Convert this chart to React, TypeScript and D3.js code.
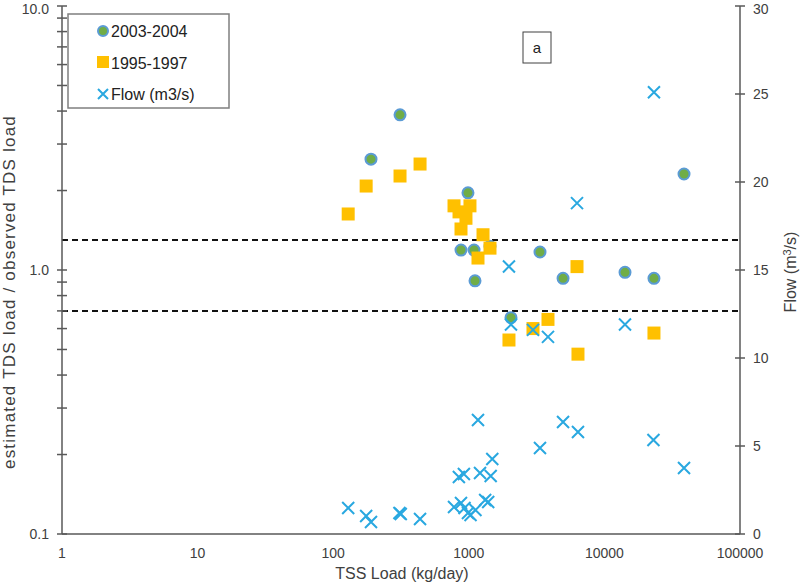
import React, { useEffect, useRef } from "react";
import * as d3 from "d3";

// 2003-2004 samples: TSS load (kg/day) and estimated / observed TDS ratio
const circleLoad = [190, 311, 986, 876, 1093, 1433, 1111, 3350, 4955, 2047, 14190, 23200, 38650];
const circleRatio = [2.63, 3.87, 1.96, 1.19, 1.19, 1.23, 0.91, 1.17, 0.93, 0.66, 0.98, 0.93, 2.31];

// 1995-1997 samples
const squareLoad = [129, 175, 311, 437, 778, 1020, 847, 953, 876, 1273, 1433, 1169, 1978, 2974, 3837, 6385, 6280, 23200];
const squareRatio = [1.63, 2.08, 2.27, 2.52, 1.75, 1.75, 1.66, 1.57, 1.43, 1.36, 1.21, 1.11, 0.543, 0.6, 0.65, 0.48, 1.03, 0.577];

// flow (m3/s), right axis
const flowLoad = [129, 175, 190, 308, 315, 437, 778, 876, 930, 986, 1030, 1120, 1169, 845, 920, 1210, 1450, 1490,
  1320, 1390, 1978, 2047, 2974, 3837, 6280, 23200, 14190, 3350, 4955, 6385, 23000, 38650];
const flowValue = [1.48, 1.02, 0.68, 1.19, 1.14, 0.85, 1.53, 1.76, 1.48, 1.19, 1.08, 1.36, 6.48, 3.24, 3.41, 3.47,
  3.3, 4.26, 1.93, 1.82, 15.2, 11.9, 11.6, 11.2, 18.8, 25.1, 11.9, 4.89, 6.36, 5.8, 5.34, 3.75];

const xTicks = [1, 10, 100, 1000, 10000, 100000];
const yTicks = [0.1, 1, 10];
const yTickLabels = ["0.1", "1.0", "10.0"];
const flowTicks = [0, 5, 10, 15, 20, 25, 30];
const bandLines = [1.3, 0.7];

const FONT = "'Liberation Sans', Arial, sans-serif";
const AXIS = "#595959";
const TEXT = "#404040";
const GREEN = "#70AD47";
const BLUE = "#5B9BD5";
const GOLD = "#FFC000";
const CYAN = "#29A8E0";

const App = () => {
  const svgRef = useRef<SVGSVGElement>(null);

  useEffect(() => {
    const svg = d3.select(svgRef.current);
    svg.selectAll("*").remove();

    const left = 62, right = 740, top = 6, bottom = 534;

    const x = d3.scaleLog().domain([1, 100000]).range([left, right]);
    const y = d3.scaleLog().domain([0.1, 10]).range([bottom, top]);
    const y2 = d3.scaleLinear().domain([0, 30]).range([bottom, top]);

    // dashed band
    svg.selectAll("line.band")
      .data(bandLines)
      .enter()
      .append("line")
      .attr("x1", left)
      .attr("x2", right)
      .attr("y1", d => y(d))
      .attr("y2", d => y(d))
      .attr("stroke", "#111")
      .attr("stroke-width", 2)
      .attr("stroke-dasharray", "6,4");

    // axes lines
    const g = svg.append("g").attr("stroke", AXIS).attr("stroke-width", 1.5);
    g.append("line").attr("x1", left).attr("x2", left).attr("y1", top).attr("y2", bottom);
    g.append("line").attr("x1", right).attr("x2", right).attr("y1", top).attr("y2", bottom);
    g.append("line").attr("x1", left).attr("x2", right).attr("y1", bottom).attr("y2", bottom);

    // left ticks (major + minor), crossing the axis
    const leftTicks: number[] = [];
    [0.1, 1].forEach(base => {
      for (let k = 1; k <= 9; k++) leftTicks.push(base * k);
    });
    leftTicks.push(10);
    g.selectAll("line.lt")
      .data(leftTicks)
      .enter()
      .append("line")
      .attr("x1", left - 5)
      .attr("x2", left + 5)
      .attr("y1", d => y(d))
      .attr("y2", d => y(d));

    g.selectAll("line.rt")
      .data(flowTicks)
      .enter()
      .append("line")
      .attr("x1", right - 5)
      .attr("x2", right + 5)
      .attr("y1", d => y2(d))
      .attr("y2", d => y2(d));

    // tick labels
    svg.selectAll("text.xl")
      .data(xTicks)
      .enter()
      .append("text")
      .attr("x", d => x(d))
      .attr("y", 558)
      .attr("text-anchor", "middle")
      .style("font-family", FONT)
      .style("font-size", "14px")
      .attr("fill", TEXT)
      .text(d => String(d));

    svg.selectAll("text.yl")
      .data(yTicks)
      .enter()
      .append("text")
      .attr("x", 49)
      .attr("y", d => Math.max(y(d) + 5, 14))
      .attr("text-anchor", "end")
      .style("font-family", FONT)
      .style("font-size", "14px")
      .attr("fill", TEXT)
      .text((d, i) => yTickLabels[i]);

    svg.selectAll("text.y2l")
      .data(flowTicks)
      .enter()
      .append("text")
      .attr("x", 753)
      .attr("y", d => Math.max(y2(d) + 5, 14))
      .style("font-family", FONT)
      .style("font-size", "14px")
      .attr("fill", TEXT)
      .text(d => String(d));

    // axis titles
    svg.append("text")
      .attr("x", 402)
      .attr("y", 579)
      .attr("text-anchor", "middle")
      .style("font-family", FONT)
      .style("font-size", "16px")
      .attr("fill", TEXT)
      .text("TSS Load (kg/day)");

    svg.append("text")
      .attr("transform", "translate(15,292) rotate(-90)")
      .attr("text-anchor", "middle")
      .style("font-family", FONT)
      .style("font-size", "17px")
      .style("letter-spacing", "1.2px")
      .attr("fill", TEXT)
      .text("estimated TDS load / observed TDS load");

    const ft = svg.append("text")
      .attr("transform", "translate(796,272) rotate(-90)")
      .attr("text-anchor", "middle")
      .style("font-family", FONT)
      .style("font-size", "16px")
      .attr("fill", TEXT);
    ft.append("tspan").text("Flow (m");
    ft.append("tspan").attr("dy", -5).style("font-size", "11px").text("3");
    ft.append("tspan").attr("dy", 5).text("/s)");

    // circles
    svg.selectAll("circle.c")
      .data(circleLoad)
      .enter()
      .append("circle")
      .attr("cx", d => x(d))
      .attr("cy", (d, i) => y(circleRatio[i]))
      .attr("r", 5.5)
      .attr("fill", GREEN)
      .attr("stroke", BLUE)
      .attr("stroke-width", 2);

    // squares
    svg.selectAll("rect.s")
      .data(squareLoad)
      .enter()
      .append("rect")
      .attr("x", d => x(d) - 6.5)
      .attr("y", (d, i) => y(squareRatio[i]) - 6.5)
      .attr("width", 13)
      .attr("height", 13)
      .attr("fill", GOLD);

    // flow crosses
    const cross = (sel: any, s: number) =>
      sel.append("path")
        .attr("d", `M${-s},${-s}L${s},${s}M${-s},${s}L${s},${-s}`)
        .attr("stroke", CYAN)
        .attr("stroke-width", 2)
        .attr("fill", "none");
    flowLoad.forEach((d, i) => {
      const gg = svg.append("g").attr("transform", `translate(${x(d)},${y2(flowValue[i])})`);
      cross(gg, 6);
    });

    // legend
    svg.append("rect")
      .attr("x", 68).attr("y", 14).attr("width", 161).attr("height", 94)
      .attr("fill", "white").attr("stroke", "#7f7f7f").attr("stroke-width", 1.5);
    svg.append("circle").attr("cx", 103).attr("cy", 31).attr("r", 5)
      .attr("fill", GREEN).attr("stroke", BLUE).attr("stroke-width", 2);
    svg.append("rect").attr("x", 97).attr("y", 56).attr("width", 12).attr("height", 12).attr("fill", GOLD);
    cross(svg.append("g").attr("transform", "translate(103,94)"), 5);
    const legendLabels = ["2003-2004", "1995-1997", "Flow (m3/s)"];
    svg.selectAll("text.lg")
      .data(legendLabels)
      .enter()
      .append("text")
      .attr("x", 111)
      .attr("y", (d, i) => 37 + i * 31.5)
      .style("font-family", FONT)
      .style("font-size", "16px")
      .attr("fill", "#222")
      .text(d => d);

    // panel label
    svg.append("rect")
      .attr("x", 523).attr("y", 32).attr("width", 28).attr("height", 31)
      .attr("fill", "white").attr("stroke", "#404040").attr("stroke-width", 1);
    svg.append("text")
      .attr("x", 537).attr("y", 53)
      .attr("text-anchor", "middle")
      .style("font-family", FONT)
      .style("font-size", "15px")
      .attr("fill", "#222")
      .text("a");
  }, []);

  return (
    <svg ref={svgRef} width={800} height={584}
      style={{ position: "absolute", left: 0, top: 0, background: "white" }} />
  );
};

export default App;
